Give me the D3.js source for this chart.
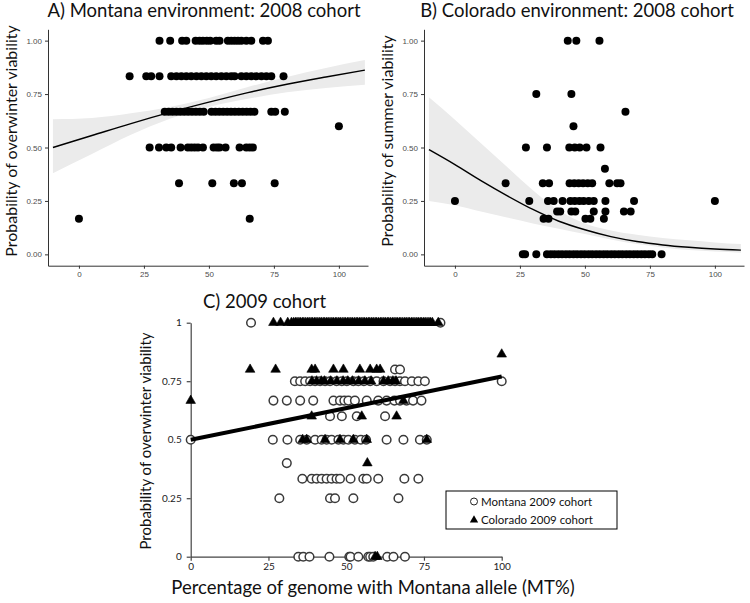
<!DOCTYPE html>
<html>
<head>
<meta charset="utf-8">
<script src="https://cdn.jsdelivr.net/npm/d3@7"></script>
<style>
  body { margin: 0; background: #fff; }
  svg { display: block; }
  .gg text { font-family: "Liberation Sans", Arial, sans-serif; font-size: 8px; fill: #4d4d4d; }
  .gg path.domain, .gg line { stroke: #333; }
  .xl text { font-family: Lato, "Open Sans", sans-serif; font-size: 10px; fill: #222; }
  .xl path.domain, .xl line { stroke: #444; stroke-width: 1.2; }
  .lab { font-family: Lato, "Open Sans", sans-serif; fill: #111; }
</style>
</head>
<body>
<svg id="chart" width="750" height="603"></svg>
<script>
// ---- data ----

// A) Montana environment, 2008 cohort: x values per probability level
var aLevels = [1, 0.833, 0.667, 0.5, 0.333, 0.167, 0.6];
var aXs = [
  [31.0, 35.1, 39.7, 41.3, 44.9, 46.4, 47.7, 49.2, 50.5, 52.8, 54.1, 57.3, 58.6, 59.9, 61.2, 62.5, 64.4, 66.3, 70.8, 72.7],
  [19.5, 25.9, 27.8, 31.0, 35.5, 37.5, 39.4, 41.3, 43.2, 45.2, 47.1, 49.0, 50.9, 52.8, 54.8, 56.7, 58.6, 59.9, 62.5, 64.4, 66.3, 68.2, 70.2, 72.1, 74.0, 78.7],
  [33.0, 34.5, 36.0, 37.5, 39.0, 40.5, 42.0, 43.5, 45.0, 46.5, 48.0, 51.0, 52.5, 54.0, 55.5, 57.0, 58.5, 60.0, 61.5, 63.0, 64.5, 66.0, 67.5, 74.0, 75.5, 79.2],
  [27.2, 30.8, 33.6, 35.5, 39.1, 41.9, 43.2, 44.5, 45.8, 47.7, 51.8, 53.1, 54.1, 56.4, 61.8, 64.4, 65.7, 66.9],
  [38.5, 51.3, 59.6, 62.7, 75.3],
  [0, 65.7],
  [100]
];
var aFitX = [-10, 5, 20, 35, 50, 65, 80, 95, 110];
var aFit = [0.50, 0.556, 0.612, 0.664, 0.712, 0.757, 0.796, 0.830, 0.862];
var aLow = [0.38, 0.47, 0.56, 0.635, 0.69, 0.728, 0.758, 0.778, 0.793];
var aHigh = [0.632, 0.638, 0.66, 0.69, 0.732, 0.783, 0.83, 0.872, 0.909];

// B) Colorado environment, 2008 cohort
var bLevels = [1, 0.75, 0.667, 0.6, 0.5, 0.4, 0.333, 0.25, 0.2, 0.167, 0];
var bXs = [
  [43.4, 46.7, 55.6],
  [31.3, 44.8],
  [65.6],
  [45.6],
  [27.3, 35.4, 44.0, 46.1, 48.0, 50.6, 56.0],
  [57.7],
  [19.5, 33.8, 36.2, 44.1, 45.9, 47.6, 49.3, 51.1, 52.8, 59.4, 62.4, 63.7],
  [0, 28.6, 35.8, 38.0, 41.4, 44.4, 46.1, 47.9, 49.5, 51.5, 53.4, 57.9, 68.9, 100],
  [39.3, 40.5, 44.8, 46.3, 53.4, 57.9, 65.0, 67.6],
  [34.1, 36.0, 50.2, 52.1, 57.3],
  [26.1, 27.0, 31.3, 35.4, 36.9, 38.3, 39.8, 41.2, 42.7, 44.1, 45.6, 47.0, 48.5, 49.9, 51.4, 52.8, 54.3, 55.7, 57.2, 58.6, 60.1, 61.5, 63.0, 64.4, 65.9, 67.3, 68.8, 70.2, 71.7, 73.1, 74.6, 75.9, 79.5]
];
var bFitX = [-10, 0, 10, 20, 30, 40, 50, 60, 70, 80, 90, 100, 110];
var bFit = [0.49, 0.42, 0.345, 0.275, 0.21, 0.155, 0.115, 0.083, 0.06, 0.044, 0.033, 0.025, 0.02];
var bLow = [0.25, 0.23, 0.2, 0.172, 0.145, 0.12, 0.095, 0.07, 0.048, 0.032, 0.02, 0.013, 0.008];
var bHigh = [0.735, 0.63, 0.52, 0.41, 0.3, 0.205, 0.145, 0.112, 0.092, 0.077, 0.066, 0.056, 0.048];

// C) 2009 cohort
var cLevels = [1, 0.8, 0.75, 0.667, 0.6, 0.5, 0.4, 0.333, 0.25, 0];
var montanaXs = [
  [19.4, 80.3],
  [65.7, 67.3],
  [33.5, 35.2, 36.8, 38.4, 40.0, 41.6, 43.2, 44.8, 46.9, 48.6, 50.2, 52.3, 53.9, 55.7, 57.7, 59.8, 62.0, 64.1, 65.7, 67.3, 68.9, 71.1, 73.2, 75.3, 100],
  [26.6, 30.9, 35.2, 39.4, 45.9, 48.0, 49.4, 50.7, 52.8, 56.6, 60.3, 63.0, 65.5, 67.3, 69.4, 71.5, 74.2],
  [44.8, 48.6, 53.4, 62.5],
  [0, 26.4, 31.1, 35.2, 37.3, 40.0, 42.1, 43.7, 45.3, 47.5, 49.1, 50.7, 52.8, 54.7, 56.4, 63.0, 68.4, 73.7, 75.9],
  [30.9],
  [35.9, 38.9, 40.5, 42.1, 43.7, 45.3, 46.9, 48.0, 51.4, 55.5, 56.6, 60.3, 68.7, 73.2],
  [28.5, 44.8, 46.4, 52.3, 66.8],
  [34.6, 36.2, 38.2, 44.6, 51.0, 51.4, 53.9, 57.1, 57.7, 58.7, 63.2, 65.2, 68.9]
];
var coloradoXs = [
  [26.6, 28.9, 31.2, 32.4, 33.1, 33.7, 34.2, 34.8, 35.3, 35.9, 36.4, 37.0, 37.6, 38.1, 38.7, 39.2, 39.8, 40.3, 40.9, 41.5, 42.0, 42.6, 43.1, 43.7, 44.2, 44.8, 45.4, 45.9, 46.5, 47.0, 47.6, 48.1, 48.7, 49.3, 49.8, 50.4, 50.9, 51.5, 52.0, 52.6, 53.2, 53.7, 54.3, 54.8, 55.4, 55.9, 56.5, 57.1, 57.6, 58.2, 58.7, 59.3, 59.8, 60.4, 61.0, 61.5, 62.1, 62.6, 63.2, 63.7, 64.3, 64.9, 65.4, 66.0, 66.5, 67.1, 67.6, 68.2, 68.8, 69.3, 69.9, 70.4, 71.0, 71.5, 72.1, 72.7, 73.2, 73.8, 74.3, 74.9, 75.4, 76.0, 76.6, 77.1, 77.7, 79.6],
  [19.1, 27.3, 38.9, 40.0, 45.9, 49.1, 54.4, 57.7, 59.8, 60.9],
  [39.0, 40.5, 42.0, 43.0, 45.0, 47.0, 49.0, 50.5, 52.0, 54.0, 56.0, 58.0, 62.0, 63.5, 65.0, 66.0],
  [0, 68.4],
  [38.9, 55.0, 66.2],
  [36.0, 37.3, 43.2, 48.0, 52.3, 56.6, 75.9],
  [56.8],
  [],
  [],
  [59.3, 60.0]
];
var coloradoExtra = [[100, 0.865]];
var trendX = [0, 100];
var trendY = [0.5, 0.77];

var yTicksAB = [0, 0.25, 0.5, 0.75, 1];
var xTicks = [0, 25, 50, 75, 100];
var yTicksC = [0, 0.25, 0.5, 0.75, 1];

// ---- drawing ----
var svg = d3.select('#chart');

function toPoints(levels, xs) {
  var pts = [];
  levels.forEach(function (p, i) {
    xs[i].forEach(function (x) { pts.push([x, p]); });
  });
  return pts;
}

function ggPanel(x0, levels, xs, fitX, fit, low, high, title, titleX, ylabel, ylabX) {
  var x = d3.scaleLinear().domain([-11.9, 111.2]).range([x0, x0 + 320]);
  var y = d3.scaleLinear().domain([-0.053, 1.053]).range([265.7, 29.3]);
  var g = svg.append('g');

  var band = fitX.map(function (d, i) { return { x: d, lo: low[i], hi: high[i] }; });
  g.append('path')
    .datum(band)
    .attr('fill', '#ebebeb')
    .attr('d', d3.area().curve(d3.curveMonotoneX)
      .x(function (d) { return x(d.x); })
      .y0(function (d) { return y(d.lo); })
      .y1(function (d) { return y(d.hi); }));

  g.selectAll('circle')
    .data(toPoints(levels, xs))
    .enter().append('circle')
    .attr('cx', function (d) { return x(d[0]); })
    .attr('cy', function (d) { return y(d[1]); })
    .attr('r', 4)
    .attr('fill', '#000');

  g.append('path')
    .datum(fitX.map(function (d, i) { return [d, fit[i]]; }))
    .attr('fill', 'none')
    .attr('stroke', '#000')
    .attr('stroke-width', 1.4)
    .attr('d', d3.line().curve(d3.curveMonotoneX)
      .x(function (d) { return x(d[0]); })
      .y(function (d) { return y(d[1]); }));

  g.append('g').attr('class', 'gg')
    .attr('transform', 'translate(0,265.7)')
    .call(d3.axisBottom(x).tickValues(xTicks).tickSize(3).tickSizeOuter(0));
  g.append('g').attr('class', 'gg')
    .attr('transform', 'translate(' + x0 + ',0)')
    .call(d3.axisLeft(y).tickValues(yTicksAB).tickFormat(d3.format('.2f')).tickSize(3).tickSizeOuter(0));

  svg.append('text').attr('class', 'lab')
    .attr('x', titleX).attr('y', 17)
    .attr('text-anchor', 'middle')
    .attr('font-size', 18.5)
    .text(title);
  svg.append('text').attr('class', 'lab')
    .attr('transform', 'translate(' + ylabX + ',141) rotate(-90)')
    .attr('text-anchor', 'middle')
    .attr('font-size', 16)
    .text(ylabel);
}

ggPanel(48, aLevels, aXs, aFitX, aFit, aLow, aHigh,
  'A) Montana environment: 2008 cohort', 204, 'Probability of overwinter viability', 17);
ggPanel(424, bLevels, bXs, bFitX, bFit, bLow, bHigh,
  'B) Colorado environment: 2008 cohort', 577, 'Probability of summer viability', 393);

// panel C
var xC = d3.scaleLinear().domain([0, 100]).range([190.7, 501.7]);
var yC = d3.scaleLinear().domain([0, 1]).range([556.7, 322.7]);
var gC = svg.append('g');

gC.append('g').attr('class', 'xl')
  .attr('transform', 'translate(0,556.7)')
  .call(d3.axisBottom(xC).tickValues(xTicks).tickSize(4).tickSizeOuter(0).tickPadding(2));
gC.append('g').attr('class', 'xl')
  .attr('transform', 'translate(190.7,0)')
  .call(d3.axisLeft(yC).tickValues(yTicksC).tickFormat(function (d) { return d; }).tickSize(4).tickSizeOuter(0).tickPadding(5));

gC.selectAll('circle.mt')
  .data(toPoints(cLevels, montanaXs))
  .enter().append('circle')
  .attr('class', 'mt')
  .attr('cx', function (d) { return xC(d[0]); })
  .attr('cy', function (d) { return yC(d[1]); })
  .attr('r', 4.3)
  .attr('fill', '#fff')
  .attr('stroke', '#3a3a3a')
  .attr('stroke-width', 1.5);

var tri = d3.symbol().type(d3.symbolTriangle).size(40);
gC.selectAll('path.co')
  .data(toPoints(cLevels, coloradoXs).concat(coloradoExtra))
  .enter().append('path')
  .attr('class', 'co')
  .attr('transform', function (d) { return 'translate(' + xC(d[0]) + ',' + yC(d[1]) + ')'; })
  .attr('d', tri)
  .attr('fill', '#000')
  .attr('stroke', '#000')
  .attr('stroke-width', 0.6);

gC.append('path')
  .datum(trendX.map(function (d, i) { return [d, trendY[i]]; }))
  .attr('fill', 'none')
  .attr('stroke', '#000')
  .attr('stroke-width', 4)
  .attr('d', d3.line().x(function (d) { return xC(d[0]); }).y(function (d) { return yC(d[1]); }));

svg.append('text').attr('class', 'lab')
  .attr('x', 203).attr('y', 308)
  .attr('font-size', 18.5)
  .text('C) 2009 cohort');
svg.append('text').attr('class', 'lab')
  .attr('x', 373).attr('y', 594)
  .attr('text-anchor', 'middle')
  .attr('font-size', 18.5)
  .text('Percentage of genome with Montana allele (MT%)');
svg.append('text').attr('class', 'lab')
  .attr('transform', 'translate(151,441) rotate(-90)')
  .attr('text-anchor', 'middle')
  .attr('font-size', 15)
  .text('Probability of overwinter viability');

// legend
var leg = svg.append('g');
leg.append('rect')
  .attr('x', 446).attr('y', 491).attr('width', 171).attr('height', 38)
  .attr('fill', '#fff').attr('stroke', '#000').attr('stroke-width', 1);
leg.append('circle')
  .attr('cx', 474).attr('cy', 501.5).attr('r', 3.5)
  .attr('fill', '#fff').attr('stroke', '#222').attr('stroke-width', 1);
leg.append('path')
  .attr('transform', 'translate(474,520)')
  .attr('d', d3.symbol().type(d3.symbolTriangle).size(30))
  .attr('fill', '#000');
leg.append('text').attr('class', 'lab')
  .attr('x', 481).attr('y', 505.5).attr('font-size', 11.5)
  .text('Montana 2009 cohort');
leg.append('text').attr('class', 'lab')
  .attr('x', 481).attr('y', 524).attr('font-size', 11.5)
  .text('Colorado 2009 cohort');
</script>
</body>
</html>
